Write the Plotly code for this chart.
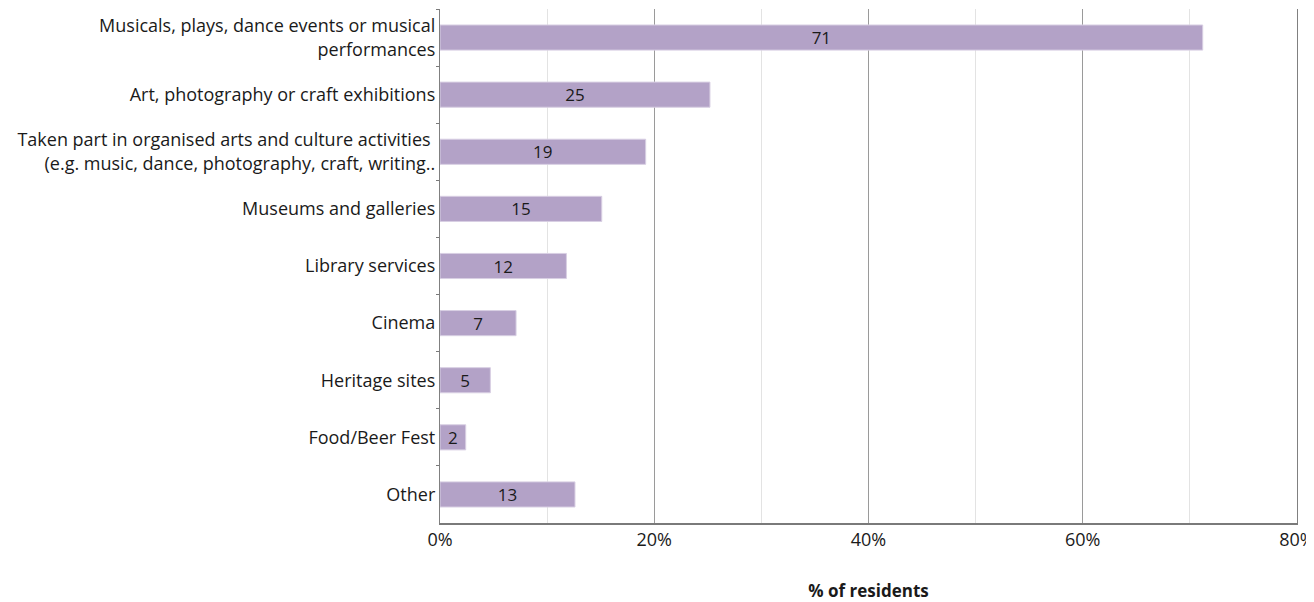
import plotly.graph_objects as go

categories = [
    "Musicals, plays, dance events or musical<br>performances",
    "Art, photography or craft exhibitions",
    "Taken part in organised arts and culture activities <br>(e.g. music, dance, photography, craft, writing..",
    "Museums and galleries",
    "Library services",
    "Cinema",
    "Heritage sites",
    "Food/Beer Fest",
    "Other",
]
values = [71.2, 25.2, 19.2, 15.1, 11.8, 7.1, 4.7, 2.4, 12.6]
x_ticks = [0, 20, 40, 60, 80]
x_tick_labels = ["0%", "20%", "40%", "60%", "80%"]

FONT = "Open Sans"

fig = go.Figure(
    go.Bar(
        y=categories,
        x=values,
        orientation="h",
        marker=dict(color="#b3a2c7", line=dict(color="#d8cfe3", width=1)),
        width=0.44,
        text=[f"{v:.0f}" for v in values],
        textposition="inside",
        insidetextanchor="middle",
        textangle=0,
        constraintext="none",
        textfont=dict(family=FONT, size=17, color="#1a1a1a"),
        hoverinfo="skip",
    )
)

# the page body adds an 8px offset, so the figure is 8px smaller and margins are shifted
fig.update_layout(
    width=1306,
    height=594,
    margin=dict(l=432, r=17, t=1, b=79),
    plot_bgcolor="white",
    paper_bgcolor="white",
    showlegend=False,
    font=dict(family=FONT, size=17, color="#1a1a1a"),
)

fig.update_xaxes(
    range=[0, 80],
    tickvals=x_ticks,
    ticktext=x_tick_labels,
    showgrid=True,
    gridcolor="#9a9a9a",
    gridwidth=1,
    minor=dict(dtick=10, tick0=0, showgrid=True, gridcolor="#e3e3e3", gridwidth=1),
    showline=True,
    linecolor="#7a7a7a",
    linewidth=1.5,
    ticks="",
    zeroline=False,
    automargin=False,
    ticklabeloverflow="allow",
    tickfont=dict(family=FONT, size=18, color="#1a1a1a"),
    title=dict(text="<b>% of residents</b>", font=dict(family=FONT, size=17, color="#1a1a1a"), standoff=38),
    fixedrange=True,
)

fig.update_yaxes(
    categoryorder="array",
    categoryarray=categories,
    autorange="reversed",
    showline=True,
    mirror=True,
    linecolor="#808080",
    linewidth=1.3,
    ticks="outside",
    tickson="boundaries",
    ticklen=3,
    tickcolor="#7a7a7a",
    showgrid=False,
    automargin=False,
    tickfont=dict(family=FONT, size=18, color="#1a1a1a"),
    fixedrange=True,
)

fig.write_html("out.html")
